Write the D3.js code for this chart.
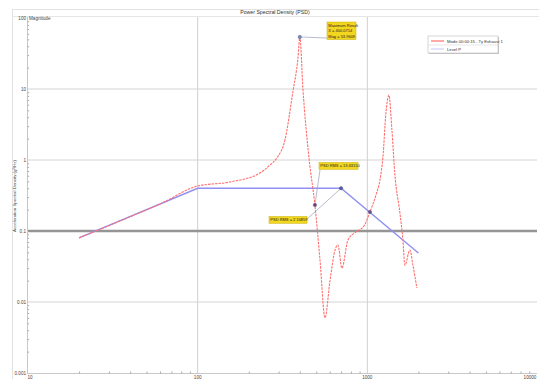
<!DOCTYPE html>
<html>
<head>
<meta charset="utf-8">
<script src="https://cdn.jsdelivr.net/npm/d3@7"></script>
<style>
  html, body { margin: 0; padding: 0; background: #fff; }
  svg { display: block; font-family: "Liberation Sans", Arial, sans-serif; }
</style>
</head>
<body>
<svg id="chart" width="539" height="379"></svg>
<script>
// Measured response PSD (Hz, g²/Hz)
const respFreq = [20, 46, 60, 100, 155, 233, 267, 293, 327, 364, 390, 400.0714, 417, 453, 491, 526, 563, 603, 645, 671, 708, 769, 857, 955, 1036, 1124, 1186, 1236, 1287, 1340, 1396, 1454, 1556, 1621, 1665, 1782, 1857, 1959];
const respPsd  = [0.08, 0.183, 0.24, 0.43, 0.49, 0.656, 0.85, 1.07, 1.92, 9.1, 27.3, 53.9609, 10.3, 1.07, 0.232, 0.039, 0.006, 0.0204, 0.054, 0.0636, 0.030, 0.0747, 0.097, 0.1175, 0.185, 0.32, 0.52, 1.10, 4.6, 8.2, 2.65, 0.615, 0.18, 0.0747, 0.033, 0.054, 0.033, 0.0157];

// Reference profile breakpoints
const profFreq = [20, 100, 700, 2000];
const profPsd  = [0.08, 0.4, 0.4, 0.049];

// Axis ticks
const xTickVals = [10, 100, 1000, 10000];
const xTickLabels = ["10", "100", "1000", "10000"];
const yTickVals = [100, 10, 1, 0.1, 0.01, 0.001];
const yTickLabels = ["100", "10", "1", "0.1", "0.01", "0.001"];

// Legend / annotations
const seriesNames = ["Mode 00:00:15 - Ty Exhaust 1", "Level P"];
const maxLabel = ["Maximum Result", "X = 400.0714", "Mag = 53.9609"];
const rmsLabels = ["PSD RMS = 13.63150", "PSD RMS = 2.10859"];

const svg = d3.select("#chart");
const x = d3.scaleLog().domain([10, 10000]).range([28, 537]);
const y = d3.scaleLog().domain([0.001, 100]).range([373, 18]);

// outer frame and title bar
svg.append("rect").attr("x", 12.5).attr("y", 9.5).attr("width", 530).attr("height", 372)
  .attr("fill", "#fff").attr("stroke", "#e2e2e2");
svg.append("line").attr("x1", 12).attr("x2", 539).attr("y1", 16.5).attr("y2", 16.5).attr("stroke", "#e6e6e6");
svg.append("text").attr("x", 275).attr("y", 14).attr("text-anchor", "middle")
  .attr("font-size", 5.2).attr("fill", "#333").text("Power Spectral Density (PSD)");

// grid
const g = svg.append("g");
[100, 1000].forEach(v => g.append("line")
  .attr("x1", x(v)).attr("x2", x(v)).attr("y1", 17).attr("y2", 373)
  .attr("stroke", "#cfcfcf").attr("stroke-width", 1));
[10, 1, 0.01].forEach(v => g.append("line")
  .attr("x1", 28).attr("x2", 537).attr("y1", y(v)).attr("y2", y(v))
  .attr("stroke", "#d4d4d4").attr("stroke-width", 1));
g.append("line").attr("x1", 28).attr("x2", 537).attr("y1", y(0.1)).attr("y2", y(0.1))
  .attr("stroke", "#959595").attr("stroke-width", 2.6);

// axes
const xMinor = [];
for (let d = 10; d < 10000; d *= 10) for (let k = 2; k <= 9; k++) xMinor.push(d * k);
const yMinor = [];
for (let d = 0.001; d < 100; d *= 10) for (let k = 2; k <= 9; k++) yMinor.push(d * k);

svg.append("line").attr("x1", 27.5).attr("x2", 27.5).attr("y1", 17).attr("y2", 374).attr("stroke", "#c8c8c8");
svg.append("line").attr("x1", 27).attr("x2", 537).attr("y1", 373.5).attr("y2", 373.5).attr("stroke", "#c8c8c8");

const yAxis = d3.axisRight(y).tickValues(yMinor).tickSize(1.6).tickFormat("");
svg.append("g").attr("transform", "translate(27.5,0)").call(yAxis)
  .call(s => s.select(".domain").remove())
  .selectAll("line").attr("stroke", "#aaa");
const xAxis = d3.axisTop(x).tickValues(xMinor).tickSize(2).tickFormat("");
svg.append("g").attr("transform", "translate(0,373.5)").call(xAxis)
  .call(s => s.select(".domain").remove())
  .selectAll("line").attr("stroke", "#aaa");

// tick labels
yTickVals.forEach((v, i) => svg.append("text")
  .attr("x", 26).attr("y", y(v) + 1.6).attr("text-anchor", "end")
  .attr("font-size", 4.6).attr("fill", "#444").text(yTickLabels[i]));
xTickVals.forEach((v, i) => svg.append("text")
  .attr("x", i === 3 ? x(v) - 7 : x(v) + (i === 0 ? 2 : 0)).attr("y", 378.5).attr("text-anchor", "middle")
  .attr("font-size", 4.6).attr("fill", "#444").text(xTickLabels[i]));
svg.append("text").attr("x", 29).attr("y", 20).attr("font-size", 4.6).attr("fill", "#444").text("Magnitude");
svg.append("text").attr("transform", "translate(16,196) rotate(-90)").attr("text-anchor", "middle")
  .attr("font-size", 4.4).attr("fill", "#444").text("Acceleration Spectral Density (g²/Hz)");

// profile
const line = d3.line().x(d => x(d[0])).y(d => y(d[1]));
svg.append("path").datum(profFreq.map((f, i) => [f, profPsd[i]]))
  .attr("d", line).attr("fill", "none").attr("stroke", "#8f8ff4").attr("stroke-width", 1.4);

// response
const curve = d3.line().x(d => x(d[0])).y(d => y(d[1])).curve(d3.curveMonotoneX);
svg.append("path").datum(respFreq.map((f, i) => [f, respPsd[i]]))
  .attr("d", curve).attr("fill", "none").attr("stroke", "#ff6f6f").attr("stroke-width", 1.1)
  .attr("stroke-dasharray", "2.5,1");

// annotation helpers
function tag(x0, y0, lines, w) {
  const h = lines.length * 5.4 + 1.4;
  svg.append("rect").attr("x", x0).attr("y", y0).attr("width", w).attr("height", h)
    .attr("fill", "#f2d620").attr("stroke", "#c9b000").attr("stroke-width", 0.5);
  lines.forEach((t, i) => svg.append("text").attr("x", x0 + 1.3).attr("y", y0 + 4.8 + i * 5.4)
    .attr("font-size", 4).attr("fill", "#222").text(t));
}
function leader(x1, y1, x2, y2) {
  svg.append("line").attr("x1", x1).attr("y1", y1).attr("x2", x2).attr("y2", y2)
    .attr("stroke", "#9aa0b8").attr("stroke-width", 0.7);
}
function marker(cx, cy, col) {
  svg.append("circle").attr("cx", cx).attr("cy", cy).attr("r", 1.7)
    .attr("fill", col).attr("stroke", "#555a80").attr("stroke-width", 0.5);
}

const pk = [400.0714, 53.9609];
leader(x(pk[0]) + 2, y(pk[1]), 327, y(pk[1]) + 1);
tag(327, 22, maxLabel, 29);
marker(x(pk[0]), y(pk[1]), "#8088c0");

const rp = [respFreq[14], respPsd[14]];
leader(320, 170, x(rp[0]), y(rp[1]));
tag(319, 162.5, [rmsLabels[0]], 39);
marker(x(rp[0]), y(rp[1]), "#7a3a7a");

const bp = [profFreq[2], profPsd[2]];
leader(307, 219, x(bp[0]), y(bp[1]));
tag(269, 216.5, [rmsLabels[1]], 38);
marker(x(bp[0]), y(bp[1]), "#5a5aa8");

marker(x(respFreq[24]), y(respPsd[24]), "#7a4a8a");

// legend
const lg = svg.append("g").attr("transform", "translate(428,36)");
lg.append("rect").attr("x", 1).attr("y", 1).attr("width", 70).attr("height", 17).attr("fill", "#c8c8c8");
lg.append("rect").attr("width", 70).attr("height", 17).attr("fill", "#fff").attr("stroke", "#bbb").attr("stroke-width", 0.6);
lg.append("line").attr("x1", 0).attr("x2", 70).attr("y1", 9).attr("y2", 9).attr("stroke", "#ccc").attr("stroke-width", 0.5);
lg.append("line").attr("x1", 3).attr("x2", 16).attr("y1", 5).attr("y2", 5).attr("stroke", "#ff6f6f").attr("stroke-width", 1.2);
lg.append("line").attr("x1", 3).attr("x2", 16).attr("y1", 13).attr("y2", 13).attr("stroke", "#c4c4f8").attr("stroke-width", 1);
lg.append("text").attr("x", 19).attr("y", 6.6).attr("font-size", 4.2).attr("fill", "#333").text(seriesNames[0]);
lg.append("text").attr("x", 19).attr("y", 14.6).attr("font-size", 4.2).attr("fill", "#333").text(seriesNames[1]);
</script>
</body>
</html>
